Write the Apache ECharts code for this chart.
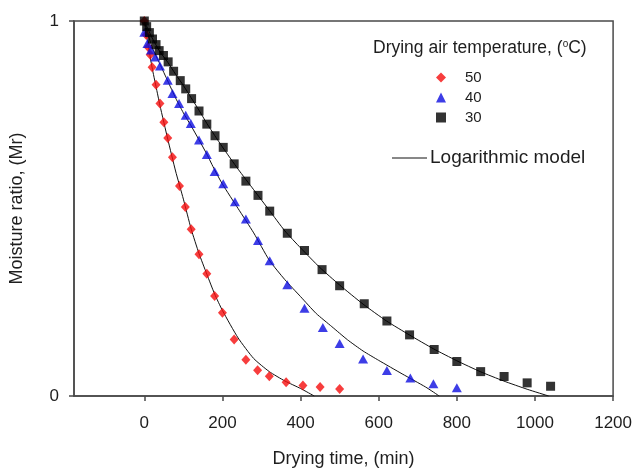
<!DOCTYPE html>
<html>
<head>
<meta charset="utf-8">
<script src="https://cdn.jsdelivr.net/npm/echarts@6/dist/echarts.min.js"></script>
<style>html,body{margin:0;padding:0;background:#fff;}#c{width:635px;height:473px;}</style>
</head>
<body>
<div id="c"></div>
<script>
// ---- data ----
var xTicks = [0, 200, 400, 600, 800, 1000, 1200];
var yTicks = [0, 1];

var t50 = [0, 5, 10, 15, 20, 30, 40, 50, 60, 72, 90, 105, 120, 140, 160, 180, 200, 230, 260, 290, 320, 363, 406, 450, 500];
var mr50 = [1.0, 0.963, 0.93, 0.91, 0.877, 0.83, 0.78, 0.73, 0.688, 0.637, 0.56, 0.504, 0.445, 0.378, 0.326, 0.267, 0.222, 0.151, 0.097, 0.069, 0.053, 0.037, 0.028, 0.024, 0.019];

var t40 = [0, 8, 17, 28, 40, 60, 72, 89, 106, 119, 140, 160, 180, 202, 232, 260, 291, 321, 366, 410, 457, 500, 560, 621, 681, 740, 800];
var mr40 = [0.97, 0.94, 0.923, 0.904, 0.88, 0.842, 0.807, 0.78, 0.749, 0.727, 0.683, 0.644, 0.599, 0.566, 0.518, 0.472, 0.415, 0.361, 0.297, 0.234, 0.183, 0.140, 0.099, 0.068, 0.048, 0.033, 0.022];

var t30 = [0, 6, 13, 21, 30, 38, 49, 61, 75, 92, 106, 121, 140, 160, 181, 202, 230, 260, 291, 321, 366, 410, 455, 500, 563, 621, 679, 742, 800, 861, 921, 980, 1040];
var mr30 = [1.0, 0.985, 0.969, 0.952, 0.937, 0.921, 0.908, 0.891, 0.866, 0.841, 0.819, 0.793, 0.760, 0.725, 0.694, 0.663, 0.619, 0.573, 0.535, 0.493, 0.434, 0.388, 0.337, 0.294, 0.246, 0.200, 0.163, 0.124, 0.092, 0.065, 0.052, 0.035, 0.026];

// model curves
var mt50 = [0, 10, 20, 30, 40, 60, 80, 100, 120, 140, 160, 180, 200, 240, 280, 320, 360, 400, 435];
var mm50 = [1.0, 0.935, 0.875, 0.825, 0.775, 0.685, 0.6, 0.525, 0.445, 0.38, 0.325, 0.272, 0.228, 0.155, 0.1, 0.065, 0.04, 0.02, 0.0];

var mt40 = [0, 20, 40, 60, 80, 100, 120, 140, 160, 180, 200, 240, 280, 320, 360, 400, 440, 480, 520, 560, 600, 660, 720, 755];
var mm40 = [1.0, 0.93, 0.885, 0.84, 0.795, 0.755, 0.72, 0.683, 0.645, 0.603, 0.565, 0.5, 0.435, 0.362, 0.31, 0.265, 0.22, 0.185, 0.15, 0.12, 0.095, 0.059, 0.024, 0.0];

var mt30 = [0, 20, 40, 60, 80, 100, 120, 140, 160, 180, 200, 240, 280, 320, 360, 400, 450, 500, 560, 620, 680, 740, 800, 860, 920, 980, 1035];
var mm30 = [1.0, 0.955, 0.918, 0.89, 0.858, 0.828, 0.795, 0.762, 0.727, 0.695, 0.664, 0.605, 0.55, 0.495, 0.44, 0.395, 0.342, 0.296, 0.245, 0.2, 0.162, 0.126, 0.094, 0.065, 0.04, 0.018, 0.0];

var legendNames = ['50', '40', '30'];
var legendTitle = 'Drying air temperature, (';
var modelName = 'Logarithmic model';
var xName = 'Drying time, (min)';
var yName = 'Moisture ratio, (Mr)';

function pairs(a, b) { return a.map(function (v, i) { return [v, b[i]]; }); }

var FONT = "'Liberation Sans', Arial, sans-serif";
var TXT = '#1e1e1e';
var AX = '#4a4a4a';

var chart = echarts.init(document.getElementById('c'));

function curve(name, t, m) {
  return {
    name: modelName + ' ' + name, type: 'line', data: pairs(t, m), showSymbol: false, symbol: 'none',
    smooth: 0.2, lineStyle: { color: '#111', width: 1 }, z: 2, silent: true
  };
}

chart.setOption({
  animation: false,
  grid: { left: 74, right: 20, top: 21, bottom: 74, show: true, borderColor: AX, borderWidth: 1.5, backgroundColor: 'transparent' },
  xAxis: {
    type: 'value', min: -180, max: 1200,
    splitLine: { show: false },
    axisLine: { onZero: false, lineStyle: { color: AX, width: 1.5 } },
    axisTick: { show: true, inside: false, length: 5, customValues: xTicks, lineStyle: { color: AX, width: 1.5 } },
    axisLabel: { customValues: xTicks, margin: 19, fontSize: 17, fontFamily: FONT, color: TXT, formatter: function (v) { return String(v); } },
    name: xName, nameLocation: 'middle', nameGap: 54,
    nameTextStyle: { fontSize: 18, fontFamily: FONT, color: TXT }
  },
  yAxis: {
    type: 'value', min: 0, max: 1, interval: 1,
    splitLine: { show: false },
    axisLine: { onZero: false, lineStyle: { color: AX, width: 1.5 } },
    axisTick: { show: true, length: 5, customValues: yTicks, lineStyle: { color: AX, width: 1.5 } },
    axisLabel: { customValues: yTicks, margin: 15, fontSize: 17, fontFamily: FONT, color: TXT },
    name: yName, nameLocation: 'middle', nameGap: 48, nameRotate: 90,
    nameTextStyle: { fontSize: 18, fontFamily: FONT, color: TXT }
  },
  legend: {
    data: legendNames, orient: 'vertical', left: 431, top: 65,
    itemWidth: 10, itemHeight: 10, itemGap: 5,
    textStyle: { fontSize: 15, fontFamily: FONT, color: TXT, padding: [0, 0, 0, 14] }
  },
  graphic: [
    {
      type: 'text', left: 373, top: 39, silent: true,
      style: {
        text: '{a|' + legendTitle + '}{s|o}{a|C)}',
        rich: {
          a: { fontSize: 17.5, fontFamily: FONT, fill: TXT },
          s: { fontSize: 10, fontFamily: FONT, fill: TXT, verticalAlign: 'top', padding: [0, 0, 9, 0] }
        }
      }
    },
    { type: 'line', silent: true, shape: { x1: 392, y1: 158, x2: 427, y2: 158 }, style: { stroke: '#111', lineWidth: 1 } },
    { type: 'text', left: 430, top: 148, silent: true, style: { text: modelName, fontSize: 19, fontFamily: FONT, fill: TXT } }
  ],
  series: [
    curve('50', mt50, mm50),
    curve('40', mt40, mm40),
    curve('30', mt30, mm30),
    { name: '50', type: 'scatter', data: pairs(t50, mr50), symbol: 'diamond', symbolSize: [9, 10], itemStyle: { color: '#f50d0d' }, z: 3 },
    { name: '40', type: 'scatter', data: pairs(t40, mr40), symbol: 'triangle', symbolSize: [10, 9], itemStyle: { color: '#0d0de0' }, z: 3 },
    { name: '30', type: 'scatter', data: pairs(t30, mr30), symbol: 'rect', symbolSize: [9, 9], itemStyle: { color: '#000' }, z: 3 }
  ]
});
</script>
</body>
</html>
